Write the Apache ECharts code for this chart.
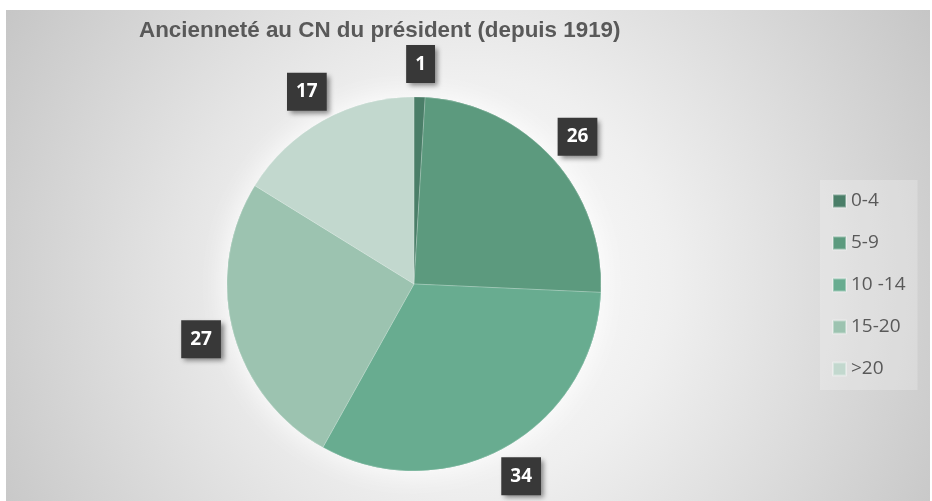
<!DOCTYPE html>
<html>
<head>
<meta charset="utf-8">
<script src="https://cdn.jsdelivr.net/npm/echarts@6/dist/echarts.min.js"></script>
<style>
  html, body { margin: 0; padding: 0; background: #ffffff; }
  #wrap { position: relative; width: 932px; height: 501px; overflow: hidden; }
  #bg { position: absolute; left: 6px; top: 10px; width: 924px; height: 491px;
        background: radial-gradient(circle farthest-corner at 50% 55%, #ffffff 0%, #efefef 38%, #c6c6c6 100%); }
  #chart { position: absolute; left: 0; top: 0; width: 932px; height: 501px; }
</style>
</head>
<body>
<div id="wrap"><div id="bg"></div><div id="chart"></div></div>
<script>
var titleText = 'Ancienneté au CN du président (depuis 1919)';
var categories = ['0-4', '5-9', '10 -14', '15-20', '>20'];
var values = [1, 26, 34, 27, 17];
var colors = ['#4a7e68', '#5c9a7e', '#68ac90', '#9cc3b0', '#c2d8ce'];

var chart = echarts.init(document.getElementById('chart'), null, { renderer: 'canvas' });

var pieData = categories.map(function (c, i) {
  return { name: c, value: values[i], itemStyle: { color: colors[i] } };
});

chart.setOption({
  animation: false,
  backgroundColor: 'transparent',
  title: {
    text: titleText,
    left: 134,
    top: 15,
    textStyle: { fontFamily: 'Liberation Sans, Arial, sans-serif', fontWeight: 'bold', fontSize: 22.4, color: '#595959' }
  },
  legend: {
    orient: 'vertical',
    left: 820,
    top: 180,
    padding: [11, 12, 11, 12],
    backgroundColor: 'rgba(255,255,255,0.22)',
    itemWidth: 13,
    itemHeight: 13,
    itemGap: 22,
    icon: 'rect',
    data: categories,
    textStyle: { fontFamily: 'Open Sans, sans-serif', fontSize: 19, lineHeight: 20, color: '#595959', padding: [0, 0, 0, 0] }
  },
  series: [
    {
      type: 'pie',
      silent: true,
      z: 1,
      center: [414, 284],
      radius: 187,
      startAngle: 90,
      clockwise: true,
      label: { show: false },
      labelLine: { show: false },
      itemStyle: { shadowBlur: 30, shadowColor: 'rgba(255,255,255,1)' },
      legendHoverLink: false,
      data: pieData.map(function (d) { return { name: d.name + ' ', value: d.value, itemStyle: { color: d.itemStyle.color } }; })
    },
    {
      type: 'pie',
      z: 2,
      center: [414, 284],
      radius: 187,
      startAngle: 90,
      clockwise: true,
      avoidLabelOverlap: false,
      itemStyle: { borderColor: 'rgba(255,255,255,0.35)', borderWidth: 0.6 },
      label: {
        show: true,
        position: 'outside',
        formatter: '{c}',
        color: '#ffffff',
        fontFamily: 'Open Sans, sans-serif',
        fontWeight: 'bold',
        fontSize: 19,
        lineHeight: 20,
        backgroundColor: '#383838',
        padding: [9, 9, 9, 9],
        shadowBlur: 5,
        shadowOffsetX: 3,
        shadowOffsetY: 3,
        shadowColor: 'rgba(0,0,0,0.45)'
      },
      labelLine: { show: true, length: 33, length2: 0, lineStyle: { opacity: 0 } },
      labelLayout: function (params) {
        var p = params.labelLinePoints;
        if (!p || !p[1]) return {};
        return { x: p[1][0], y: p[1][1], align: 'center', verticalAlign: 'middle' };
      },
      data: pieData
    }
  ]
});
</script>
</body>
</html>
